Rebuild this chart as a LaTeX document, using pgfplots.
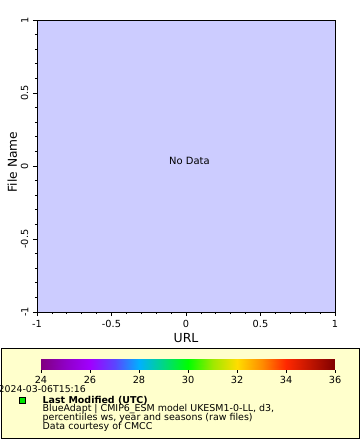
\documentclass[border=0pt]{standalone}
\usepackage{pgfplots}
\pgfplotsset{compat=1.18}
\usepackage{fontspec}
\setmainfont{DejaVu Sans}
\definecolor{bgblue}{RGB}{204,204,255}
\definecolor{panelyellow}{RGB}{255,255,204}
\definecolor{sqgreen}{RGB}{0,230,0}
\pgfplotsset{
  colormap={cmcc}{
    rgb255(24)=(128,0,128) rgb255(25)=(144,0,200) rgb255(26)=(160,0,255)
    rgb255(27)=(90,70,255) rgb255(28)=(0,176,255) rgb255(29)=(0,216,128)
    rgb255(30)=(0,255,0) rgb255(31)=(160,232,0) rgb255(32)=(255,221,0)
    rgb255(33)=(255,140,0) rgb255(34)=(255,40,0) rgb255(35)=(190,20,0)
    rgb255(36)=(128,0,0)}
}
\begin{document}
\begin{tikzpicture}
\path[use as bounding box] (0,0) rectangle (360bp,-440bp);
% main axis
\begin{axis}[
  at={(37bp,-312bp)}, anchor=south west,
  scale only axis, width=298bp, height=292bp,
  xmin=-1, xmax=1, ymin=-1, ymax=1,
  xtick={-1,-0.5,0,0.5,1}, ytick={-1,-0.5,0,0.5,1},
  minor tick num=4,
  tick align=outside,
  major tick length=4bp, minor tick length=2bp,
  every tick/.style={black, line width=0.8bp},
  axis line style={line width=0.8bp},
  axis background/.style={fill=bgblue},
  /pgf/number format/assume math mode=true,
  tick label style={font=\fontsize{9.8}{9.8}\selectfont},
  yticklabel style={rotate=90, anchor=south, inner sep=4.5bp},
  xticklabel style={inner sep=4.5bp},
  xtick pos=bottom, ytick pos=left,
]
\node[font=\fontsize{10}{10}\selectfont] at (axis cs:0.023,0.034) {No Data};
\end{axis}
\node[anchor=base, font=\fontsize{12.5}{12.5}\selectfont] at (186bp,-342.3bp) {URL};
\node[anchor=base, rotate=90, font=\fontsize{12.3}{12.3}\selectfont] at (16.8bp,-162bp) {File Name};
% legend panel
\draw[fill=panelyellow, line width=1bp] (1bp,-348.5bp) rectangle (359bp,-438.5bp);
\begin{axis}[
  at={(41bp,-369.5bp)}, anchor=south west,
  scale only axis, width=294bp, height=10.5bp,
  xmin=24, xmax=36, ymin=0, ymax=1,
  colormap name=cmcc, point meta min=24, point meta max=36,
  axis x line*=bottom, hide y axis,
  x axis line style={draw=none},
  xtick={24,26,...,36}, tick align=outside,
  major tick length=3bp,
  every tick/.style={black, line width=0.8bp},
  /pgf/number format/assume math mode=true,
  tick label style={font=\fontsize{9.8}{9.8}\selectfont},
  xticklabel style={inner sep=3.5bp},
]
\addplot[surf, shader=interp, point meta=x] coordinates {
(24,0) (25,0) (26,0) (27,0) (28,0) (29,0) (30,0) (31,0) (32,0) (33,0) (34,0) (35,0) (36,0)

(24,1) (25,1) (26,1) (27,1) (28,1) (29,1) (30,1) (31,1) (32,1) (33,1) (34,1) (35,1) (36,1)
};
\end{axis}
\node[anchor=base west, font=\fontsize{9.4}{9.4}\selectfont, inner sep=0pt] at (-1.5bp,-392bp) {2024-03-06T15:16};
\draw[fill=sqgreen, line width=0.8bp] (19.5bp,-397.5bp) rectangle (25bp,-403bp);
\node[anchor=base west, font=\fontsize{9.5}{9.5}\selectfont\bfseries, inner sep=0pt] at (42.5bp,-403.3bp) {Last Modified (UTC)};
\node[anchor=base west, font=\fontsize{9.5}{9.5}\selectfont, inner sep=0pt] at (42.5bp,-411.8bp) {BlueAdapt | CMIP6\_ESM model UKESM1-0-LL, d3,};
\node[anchor=base west, font=\fontsize{9.5}{9.5}\selectfont, inner sep=0pt] at (42.5bp,-420.4bp) {percentiiles ws, year and seasons (raw files)};
\node[anchor=base west, font=\fontsize{9.5}{9.5}\selectfont, inner sep=0pt] at (42.5bp,-429bp) {Data courtesy of CMCC};
\end{tikzpicture}
\end{document}
